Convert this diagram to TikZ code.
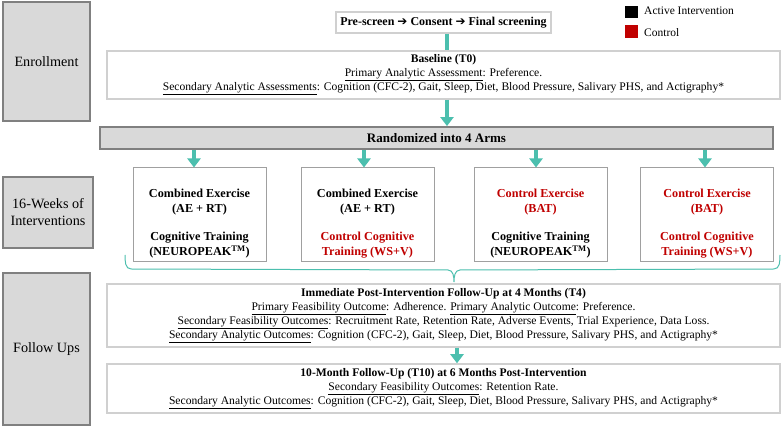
\documentclass[tikz,border=0pt]{standalone}
\usepackage{fontspec}
\setmainfont{Liberation Serif}
\newfontfamily\arrowfont{DejaVu Sans}
\usetikzlibrary{arrows.meta}
\definecolor{phasefill}{HTML}{D9D9D9}
\definecolor{phaseline}{HTML}{808080}
\definecolor{boxline}{HTML}{D0D0D0}
\definecolor{armline}{HTML}{A0A0A0}
\definecolor{tealc}{HTML}{4CBFAE}
\definecolor{redc}{HTML}{C00000}
\newcommand{\rar}{{\arrowfont\bfseries\char"2794}}
\begin{document}
\begin{tikzpicture}[x=1pt,y=-1pt,
  phase/.style={draw=phaseline, line width=1.8pt, fill=phasefill, align=center, inner sep=0pt,
    font=\fontsize{14.2}{17}\selectfont},
  wbox/.style={draw=boxline, line width=1.5pt, fill=white, align=center, inner sep=0pt,
    font=\fontsize{11.6}{14}\selectfont},
  armbox/.style={draw=armline, line width=1pt, fill=white, inner sep=0pt,
    minimum width=133pt, minimum height=94pt},
  armtext/.style={align=center, inner sep=0pt, font=\bfseries\fontsize{12.2}{15}\selectfont},
  flow/.style={draw=tealc, line width=4pt},
  flowarr/.style={draw=tealc, line width=4pt, -{Triangle[width=13pt,length=9pt]}},
  legtext/.style={anchor=west, inner sep=0pt, font=\fontsize{11.5}{14}\selectfont}
]
\useasboundingbox (0,0) rectangle (782,427);

% phase boxes
\node[phase, minimum width=87pt, minimum height=119pt] (enroll) at (46.5,61.5) {Enrollment};
\node[phase, minimum width=90pt, minimum height=71pt] (weeks) at (48,212.5) {16-Weeks of\\Interventions};
\node[phase, minimum width=87pt, minimum height=152pt] (follow) at (46.5,349) {Follow Ups};

% legend
\node[fill=black, minimum width=13pt, minimum height=12pt, inner sep=0pt] (legA) at (631.5,12) {};
\node[fill=redc, minimum width=13pt, minimum height=13pt, inner sep=0pt] (legC) at (631.5,32) {};
\node[legtext] (legAt) at (644,11) {Active Intervention};
\node[legtext] (legCt) at (644,33) {Control};

% enrollment flow
\node[wbox, minimum width=215pt, minimum height=21pt, font=\bfseries\fontsize{12}{14}\selectfont] (pre) at (443.5,22.5)
  {Pre-screen \rar{} Consent \rar{} Final screening};
\node[wbox, minimum width=673pt, minimum height=48pt] (base) at (443.5,75)
  {\textbf{Baseline (T0)}\\
   \underline{Primary Analytic Assessment}: Preference.\\
   \underline{Secondary Analytic Assessments}: Cognition (CFC-2), Gait, Sleep, Diet, Blood Pressure, Salivary PHS, and Actigraphy*};
\node[draw=phaseline, line width=1.8pt, fill=phasefill, minimum width=673pt, minimum height=22pt, inner sep=0pt,
  font=\bfseries\fontsize{13}{15}\selectfont] (rand) at (436.5,138) {Randomized into 4 Arms};

\coordinate (spine) at (447,0);
\draw[flow] (pre.south -| spine) -- (base.north -| spine);
\draw[flowarr] (base.south -| spine) -- (rand.north -| spine);

% arms
\node[armbox] (arm1) at (199.5,215) {};
\node[armbox] (arm2) at (367.5,215) {};
\node[armbox] (arm3) at (540.5,215) {};
\node[armbox] (arm4) at (707,215) {};

\node[armtext] (t1) at ([yshift=-9pt]arm1.center)
  {Combined Exercise\\(AE + RT)\\[13pt]Cognitive Training\\(NEUROPEAK\textsuperscript{TM})};
\node[armtext] (t2) at ([yshift=-9pt]arm2.center)
  {Combined Exercise\\(AE + RT)\\[13pt]\textcolor{redc}{Control Cognitive}\\\textcolor{redc}{Training (WS+V)}};
\node[armtext] (t3) at ([yshift=-9pt]arm3.center)
  {\textcolor{redc}{Control Exercise}\\\textcolor{redc}{(BAT)}\\[13pt]Cognitive Training\\(NEUROPEAK\textsuperscript{TM})};
\node[armtext] (t4) at ([yshift=-9pt]arm4.center)
  {\textcolor{redc}{Control Exercise}\\\textcolor{redc}{(BAT)}\\[13pt]\textcolor{redc}{Control Cognitive}\\\textcolor{redc}{Training (WS+V)}};

\foreach \a/\x in {arm1/194,arm2/364,arm3/536,arm4/705}{
  \coordinate (c\a) at (\x,0);
  \draw[flowarr] (rand.south -| c\a) -- (\a.north -| c\a);
}

% brace
\coordinate (brL) at (125,255);
\coordinate (brR) at (780,255);
\coordinate (brTip) at (454,282);
\draw[tealc, line width=1pt]
  (brL) to[out=-90,in=180] (131,269) -- (448,270) to[out=0,in=90] (brTip)
  (brTip) to[out=90,in=180] (460,270) -- (774,269) to[out=0,in=-90] (brR);

% follow ups
\node[wbox, minimum width=673pt, minimum height=63pt] (imm) at (443.5,315.5)
  {\textbf{Immediate Post-Intervention Follow-Up at 4 Months (T4)}\\
   \underline{Primary Feasibility Outcome}: Adherence. \underline{Primary Analytic Outcome}: Preference.\\
   \underline{Secondary Feasibility Outcomes}: Recruitment Rate, Retention Rate, Adverse Events, Trial Experience, Data Loss.\\
   \underline{Secondary Analytic Outcomes}: Cognition (CFC-2), Gait, Sleep, Diet, Blood Pressure, Salivary PHS, and Actigraphy*};
\node[wbox, minimum width=673pt, minimum height=49pt] (ten) at (443.5,388.5)
  {\textbf{10-Month Follow-Up (T10) at 6 Months Post-Intervention}\\
   \underline{Secondary Feasibility Outcomes}: Retention Rate.\\
   \underline{Secondary Analytic Outcomes}: Cognition (CFC-2), Gait, Sleep, Diet, Blood Pressure, Salivary PHS, and Actigraphy*};

\coordinate (spine2) at (457,0);
\draw[flowarr] (imm.south -| spine2) -- (ten.north -| spine2);
\end{tikzpicture}
\end{document}
